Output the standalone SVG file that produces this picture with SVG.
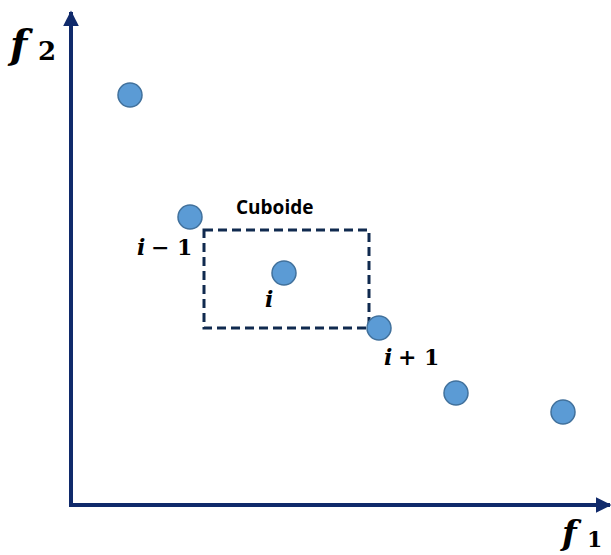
<svg xmlns="http://www.w3.org/2000/svg" width="611" height="555" viewBox="0 0 611 555">
<style>
.pt{fill:#5b9bd5;stroke:#41719c;stroke-width:1.5}
.ax{stroke:#102a6b;stroke-width:4;fill:none}
.m{font-family:"DejaVu Serif","Liberation Serif",serif;font-weight:bold;font-style:italic;fill:#000}
.n{font-family:"DejaVu Serif","Liberation Serif",serif;font-weight:bold;fill:#000}
.lbl{font-family:"Open Sans","Liberation Sans",sans-serif;font-weight:bold;font-size:19px;fill:#000}
</style>
<defs>
<marker id="ah" viewBox="0 0 10 10" refX="9" refY="5" markerWidth="4" markerHeight="4" orient="auto">
<path d="M0,0 L10,5 L0,10 z" fill="#102a6b"/>
</marker>
</defs>
<rect width="611" height="555" fill="#fff"/>
<g id="connectors">
<path class="ax" d="M71,507 L71,12" marker-end="url(#ah)"/>
<path class="ax" d="M69,505 L610,505" marker-end="url(#ah)"/>
<rect x="204" y="230" width="165" height="98" fill="none" stroke="#102a4f" stroke-width="3" stroke-dasharray="9,5"/>
</g>
<g id="axis-labels">
<text x="10" y="58" class="m" font-size="40">f</text><text x="38" y="60" class="n" font-size="26">2</text>
<text x="562" y="545" class="m" font-size="34">f</text><text x="587" y="547" class="n" font-size="22">1</text>
</g>
<g id="p1"><circle class="pt" cx="130" cy="95" r="12"/></g>
<g id="p2"><circle class="pt" cx="190" cy="217" r="12"/><text x="137" y="255" class="m" font-size="22">i</text><text x="151" y="255" class="n" font-size="22">− 1</text></g>
<g id="p3"><circle class="pt" cx="284" cy="273" r="12"/><text x="265" y="307" class="m" font-size="22">i</text></g>
<g id="p4"><circle class="pt" cx="379" cy="328" r="12"/><text x="384" y="365" class="m" font-size="22">i</text><text x="398" y="365" class="n" font-size="22">+ 1</text></g>
<g id="p5"><circle class="pt" cx="456" cy="393" r="12"/></g>
<g id="p6"><circle class="pt" cx="563" cy="412" r="12"/></g>
<g id="cuboide-label"><text x="236" y="214" class="lbl">Cuboide</text></g>
</svg>
